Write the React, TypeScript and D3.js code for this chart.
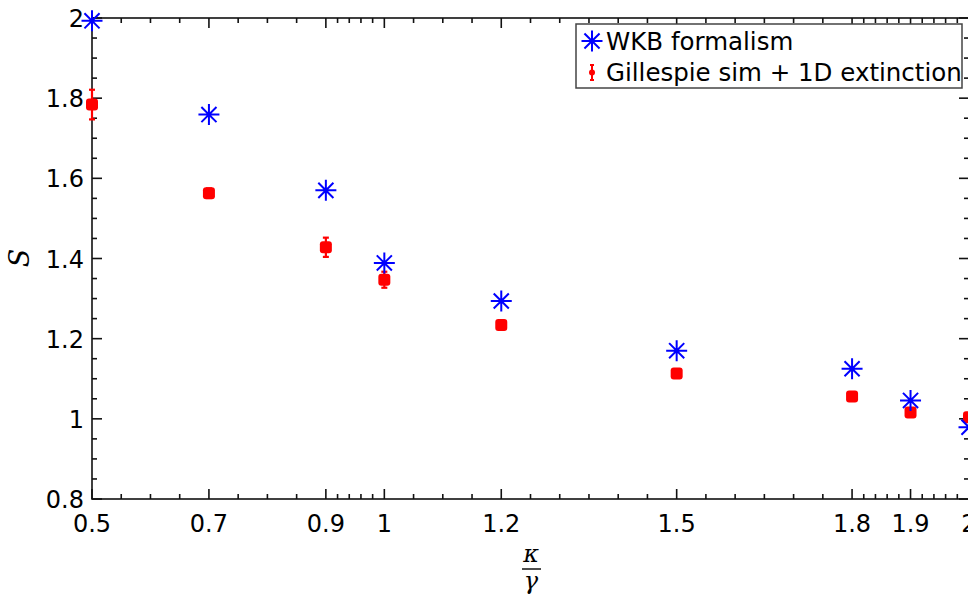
import React, { useRef, useEffect } from 'react';
import * as d3 from 'd3';

// kappa / gamma values
const kappaOverGamma = [0.5, 0.7, 0.9, 1.0, 1.2, 1.5, 1.8, 1.9, 2.0];
// WKB formalism prediction
const wkbS = [1.993, 1.759, 1.570, 1.389, 1.294, 1.170, 1.125, 1.046, 0.979];
// Gillespie simulation + 1D extinction
const simS = [1.784, 1.563, 1.428, 1.347, 1.234, 1.113, 1.056, 1.016, 1.004];
const simErr = [0.037, 0.012, 0.024, 0.02, 0.006, 0.005, 0.005, 0.005, 0.005];

const xTickLabels = ['0.5', '0.7', '0.9', '1', '1.2', '1.5', '1.8', '1.9', '2'];
const yTickLabels = ['0.8', '1', '1.2', '1.4', '1.6', '1.8', '2'];
const legendLabels = ['WKB formalism', 'Gillespie sim + 1D extinction'];

const W = 968;
const H = 598;

const Chart = () => {
  const ref = useRef<SVGSVGElement>(null);

  useEffect(() => {
    const svg = d3.select(ref.current);
    svg.selectAll('*').remove();

    const x = d3.scaleLinear().domain([0.5, 2]).range([92, 969]);
    const y = d3.scaleLinear().domain([0.8, 2]).range([499, 18]);
    const [x0, x1] = x.range();
    const [y0, y1] = y.range();

    const xMajor = xTickLabels.map(Number);
    const yMajor = yTickLabels.map(Number);

    // minor ticks: 0.05 for wide gaps, 0.02 for 0.1 gaps
    const xMinor: number[] = [];
    for (let i = 0; i < xMajor.length - 1; i++) {
      const gap = xMajor[i + 1] - xMajor[i];
      const step = gap > 0.15 ? 0.05 : 0.02;
      for (let v = xMajor[i] + step; v < xMajor[i + 1] - 1e-6; v += step) xMinor.push(v);
    }
    const yMinor: number[] = [];
    for (let i = 0; i < yMajor.length - 1; i++) {
      for (let v = yMajor[i] + 0.05; v < yMajor[i + 1] - 1e-6; v += 0.05) yMinor.push(v);
    }

    const g = svg.append('g');
    const frame = g.append('g').attr('stroke', '#111').attr('stroke-width', 1.6);

    // axes box
    frame.append('rect')
      .attr('x', x0).attr('y', y1)
      .attr('width', x1 - x0).attr('height', y0 - y1)
      .attr('fill', 'none');

    const majLen = 10;
    const minLen = 5;
    xMajor.forEach(v => {
      frame.append('line').attr('x1', x(v)).attr('x2', x(v)).attr('y1', y0).attr('y2', y0 - majLen);
      frame.append('line').attr('x1', x(v)).attr('x2', x(v)).attr('y1', y1).attr('y2', y1 + majLen);
    });
    xMinor.forEach(v => {
      frame.append('line').attr('x1', x(v)).attr('x2', x(v)).attr('y1', y0).attr('y2', y0 - minLen);
      frame.append('line').attr('x1', x(v)).attr('x2', x(v)).attr('y1', y1).attr('y2', y1 + minLen);
    });
    yMajor.forEach(v => {
      frame.append('line').attr('x1', x0).attr('x2', x0 + majLen).attr('y1', y(v)).attr('y2', y(v));
      frame.append('line').attr('x1', x1).attr('x2', x1 - majLen).attr('y1', y(v)).attr('y2', y(v));
    });
    yMinor.forEach(v => {
      frame.append('line').attr('x1', x0).attr('x2', x0 + minLen).attr('y1', y(v)).attr('y2', y(v));
      frame.append('line').attr('x1', x1).attr('x2', x1 - minLen).attr('y1', y(v)).attr('y2', y(v));
    });

    // tick labels
    g.append('g')
      .selectAll('text')
      .data(xTickLabels)
      .join('text')
      .attr('x', d => x(+d))
      .attr('y', 532)
      .attr('text-anchor', 'middle')
      .attr('font-family', 'DejaVu Sans')
      .attr('font-size', 24)
      .text(d => d);

    g.append('g')
      .selectAll('text')
      .data(yTickLabels)
      .join('text')
      .attr('x', 84)
      .attr('y', d => y(+d) + 9)
      .attr('text-anchor', 'end')
      .attr('font-family', 'DejaVu Sans')
      .attr('font-size', 24)
      .text(d => d);

    // axis labels
    g.append('text')
      .attr('transform', 'translate(29,258) rotate(-90)')
      .attr('text-anchor', 'middle')
      .attr('font-family', 'DejaVu Serif')
      .attr('font-style', 'italic')
      .attr('font-size', 27)
      .text('S');

    const xl = g.append('g').attr('font-family', 'DejaVu Serif').attr('font-style', 'italic').attr('font-size', 24);
    xl.append('text').attr('x', 531).attr('y', 562).attr('text-anchor', 'middle').text('κ');
    xl.append('line').attr('x1', 522).attr('x2', 541).attr('y1', 569).attr('y2', 569)
      .attr('stroke', '#000').attr('stroke-width', 1.4);
    xl.append('text').attr('x', 531).attr('y', 589).attr('text-anchor', 'middle').text('γ');

    const asterisk = (cx: number, cy: number, r: number) => {
      const d = r * 0.72;
      return `M${cx - r},${cy}L${cx + r},${cy}M${cx},${cy - r}L${cx},${cy + r}` +
        `M${cx - d},${cy - d}L${cx + d},${cy + d}M${cx - d},${cy + d}L${cx + d},${cy - d}`;
    };

    const sim = kappaOverGamma.map((k, i) => ({ k, s: simS[i], e: simErr[i] }));
    const wkb = kappaOverGamma.map((k, i) => ({ k, s: wkbS[i] }));

    // error bars
    const eb = g.append('g').attr('stroke', '#ff0000').attr('stroke-width', 2.2);
    sim.forEach(d => {
      const cx = x(d.k);
      const ya = y(d.s + d.e);
      const yb = y(d.s - d.e);
      eb.append('line').attr('x1', cx).attr('x2', cx).attr('y1', ya).attr('y2', yb);
      eb.append('line').attr('x1', cx - 3).attr('x2', cx + 3).attr('y1', ya).attr('y2', ya);
      eb.append('line').attr('x1', cx - 3).attr('x2', cx + 3).attr('y1', yb).attr('y2', yb);
    });

    g.append('g')
      .selectAll('rect')
      .data(sim)
      .join('rect')
      .attr('x', d => x(d.k) - 6)
      .attr('y', d => y(d.s) - 6)
      .attr('width', 12)
      .attr('height', 12)
      .attr('rx', 3)
      .attr('fill', '#ff0000');

    g.append('g')
      .selectAll('path')
      .data(wkb)
      .join('path')
      .attr('d', d => asterisk(x(d.k), y(d.s), 10.5))
      .attr('stroke', '#0000ff')
      .attr('stroke-width', 2)
      .attr('fill', 'none');

    // legend
    const lg = g.append('g');
    lg.append('rect')
      .attr('x', 576).attr('y', 24)
      .attr('width', 386).attr('height', 64)
      .attr('fill', '#fff')
      .attr('stroke', '#444')
      .attr('stroke-width', 1.5);
    lg.append('path')
      .attr('d', asterisk(592, 41, 10.5))
      .attr('stroke', '#0000ff')
      .attr('stroke-width', 2)
      .attr('fill', 'none');
    lg.append('line').attr('x1', 592).attr('x2', 592).attr('y1', 65).attr('y2', 80)
      .attr('stroke', '#ff0000').attr('stroke-width', 2);
    lg.append('line').attr('x1', 590).attr('x2', 594).attr('y1', 65).attr('y2', 65)
      .attr('stroke', '#ff0000').attr('stroke-width', 2);
    lg.append('line').attr('x1', 590).attr('x2', 594).attr('y1', 80).attr('y2', 80)
      .attr('stroke', '#ff0000').attr('stroke-width', 2);
    lg.append('circle').attr('cx', 592).attr('cy', 72.5).attr('r', 3).attr('fill', '#ff0000');
    lg.selectAll('text.lab')
      .data(legendLabels)
      .join('text')
      .attr('class', 'lab')
      .attr('x', 606)
      .attr('y', (d, i) => 50 + i * 31)
      .attr('font-family', 'DejaVu Sans')
      .attr('font-size', 24.5)
      .text(d => d);
  }, []);

  return <svg ref={ref} width={W} height={H} style={{ position: 'absolute', left: 0, top: 0, background: '#fff' }} />;
};

export default function App() {
  return <Chart />;
}
